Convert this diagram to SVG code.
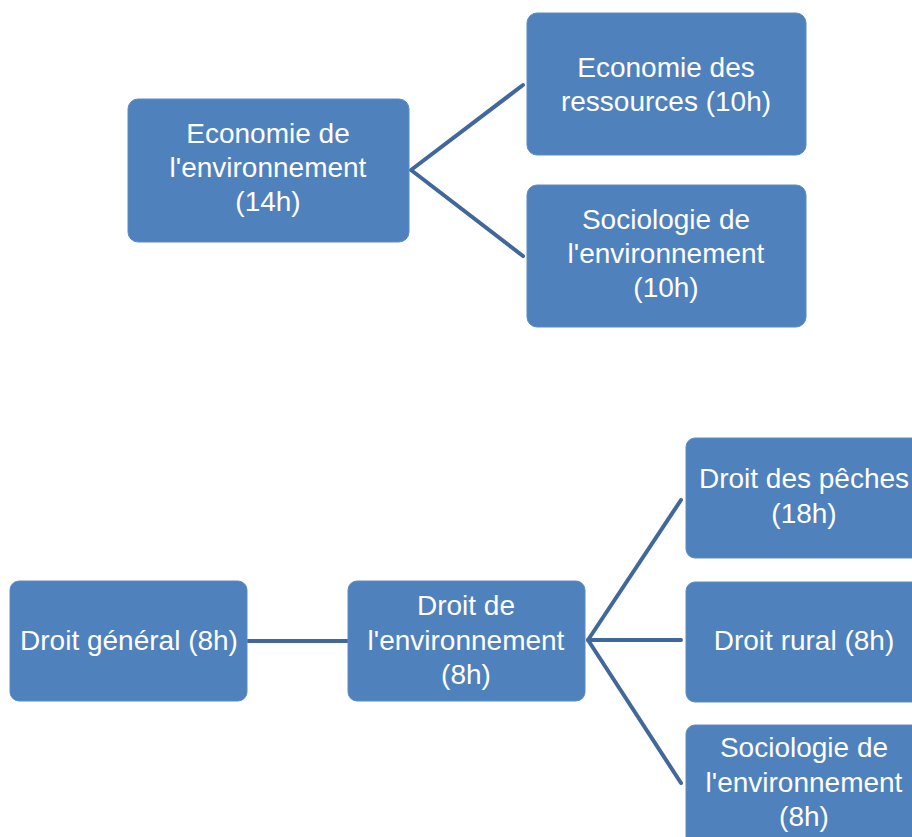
<svg xmlns="http://www.w3.org/2000/svg" width="912" height="837" viewBox="0 0 912 837">
<style>
.box{fill:#4F81BD;stroke:#5b8cc6;stroke-width:1}
.t{font-family:"Liberation Sans",Arial,sans-serif;font-size:28px;fill:#ffffff;text-anchor:middle}
.c{stroke:#41689b;stroke-width:4;fill:none;stroke-linecap:round;stroke-linejoin:round}
</style>
<rect width="912" height="837" fill="#ffffff"/>
<g id="connectors">
<polyline class="c" points="523,85 411,170 523,256"/>
<line class="c" x1="248" y1="641" x2="348" y2="641"/>
<polyline class="c" points="681,500 588,640 681,783"/>
<line class="c" x1="588" y1="640" x2="681" y2="640"/>
</g>
<g id="n-eco-env">
<rect class="box" x="128" y="99" width="281" height="143" rx="10"/>
<text class="t" x="268" y="143">Economie de</text>
<text class="t" x="268" y="177">l'environnement</text>
<text class="t" x="268" y="211">(14h)</text>
</g>
<g id="n-eco-res">
<rect class="box" x="527" y="13" width="279" height="142" rx="10"/>
<text class="t" x="666" y="77">Economie des</text>
<text class="t" x="666" y="111">ressources (10h)</text>
</g>
<g id="n-socio-10">
<rect class="box" x="527" y="185" width="279" height="142" rx="10"/>
<text class="t" x="666" y="229">Sociologie de</text>
<text class="t" x="666" y="263">l'environnement</text>
<text class="t" x="666" y="297">(10h)</text>
</g>
<g id="n-droit-gen">
<rect class="box" x="10" y="581" width="237" height="120" rx="9"/>
<text class="t" x="129" y="650">Droit général (8h)</text>
</g>
<g id="n-droit-env">
<rect class="box" x="348" y="581" width="237" height="120" rx="9"/>
<text class="t" x="466" y="615">Droit de</text>
<text class="t" x="466" y="650">l'environnement</text>
<text class="t" x="466" y="684">(8h)</text>
</g>
<g id="n-droit-peches">
<rect class="box" x="686" y="438" width="237" height="120" rx="9"/>
<text class="t" x="804" y="488">Droit des pêches</text>
<text class="t" x="804" y="523">(18h)</text>
</g>
<g id="n-droit-rural">
<rect class="box" x="686" y="582" width="237" height="120" rx="9"/>
<text class="t" x="804" y="650">Droit rural (8h)</text>
</g>
<g id="n-socio-8">
<rect class="box" x="686" y="725" width="237" height="130" rx="9"/>
<text class="t" x="804" y="757">Sociologie de</text>
<text class="t" x="804" y="792">l'environnement</text>
<text class="t" x="804" y="826">(8h)</text>
</g>
</svg>
